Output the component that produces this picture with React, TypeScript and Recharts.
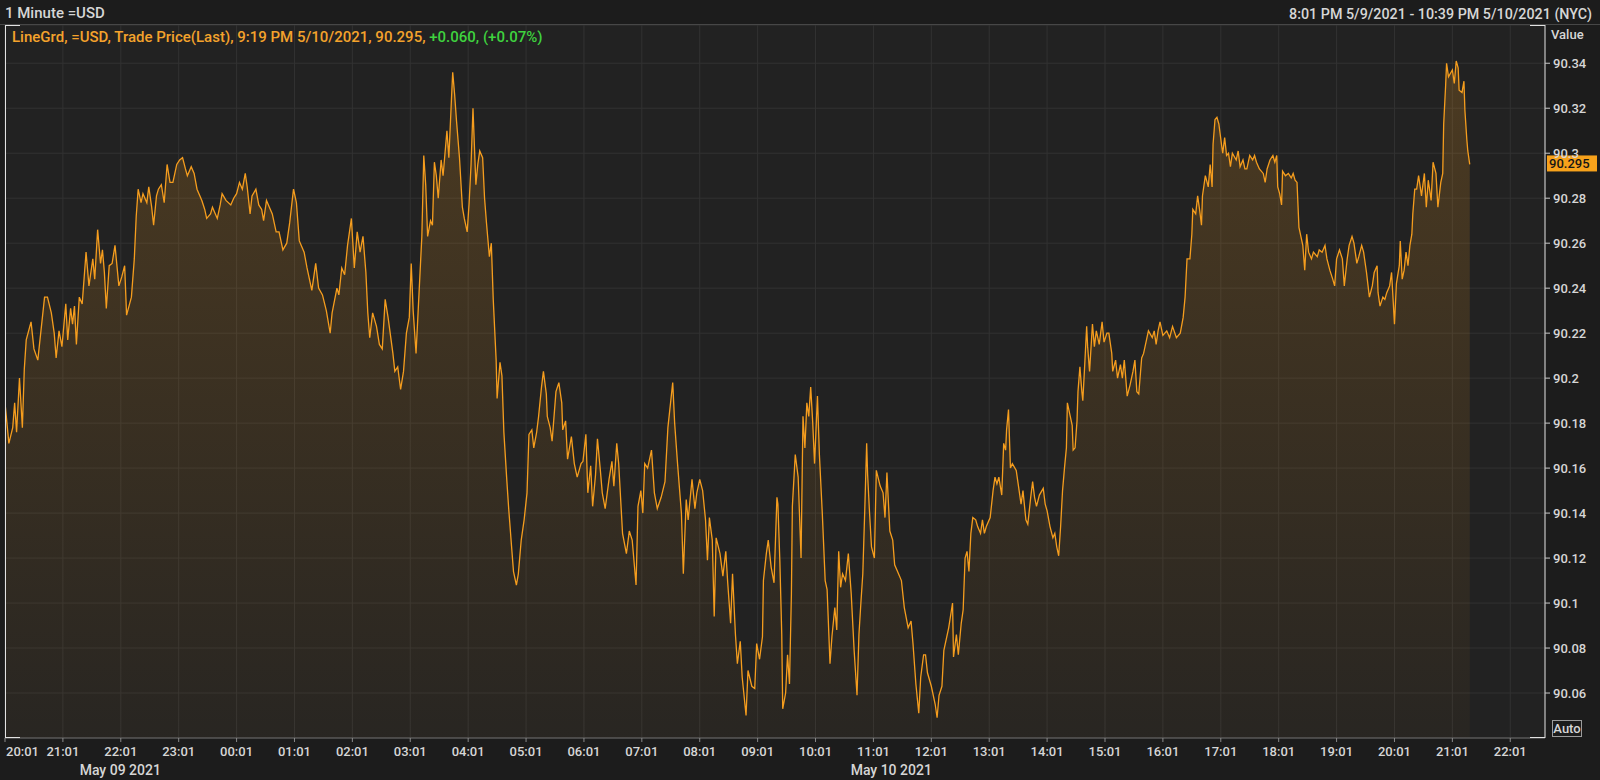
import { AreaChart, Area, XAxis, YAxis, CartesianGrid, ReferenceLine } from 'recharts'

const FONT = "Roboto, 'Noto Sans', sans-serif"

// minutes after 8:01 PM 5/9/2021 (NYC), 1 minute =USD trade price
const START_MINUTE = 20 * 60 + 1
const X_END = 1596 // right edge, ~10:39 PM 5/10

const hourTicks = [0, 60, 120, 180, 240, 300, 360, 420, 480, 540, 600, 660, 720, 780, 840, 900, 960, 1020, 1080, 1140, 1200, 1260, 1320, 1380, 1440, 1500, 1560]
const dateTicks = [119.5, 918.5]
const dateLabels = ['May 09 2021', 'May 10 2021']
const priceTicks = [90.06, 90.08, 90.1, 90.12, 90.14, 90.16, 90.18, 90.2, 90.22, 90.24, 90.26, 90.28, 90.3, 90.32, 90.34]
const lastPrice = 90.295

// [minute, price]
const may9Evening: [number, number][] = [
  [0, 90.189], [4, 90.171], [8, 90.178], [10, 90.189], [12, 90.176], [15, 90.2], [18, 90.178], [20, 90.204], [22, 90.217], [27, 90.225],
  [30, 90.213], [34, 90.208], [37, 90.22], [41, 90.236], [44, 90.236], [48, 90.229], [51, 90.22], [53, 90.209], [56, 90.221], [59, 90.214],
  [63, 90.233], [65, 90.217], [68, 90.231], [70, 90.224], [72, 90.232], [74, 90.215], [77, 90.236], [80, 90.233], [84, 90.256], [87, 90.241],
  [91, 90.253], [93, 90.244], [96, 90.266], [99, 90.251], [101, 90.257], [103, 90.247], [105, 90.231], [108, 90.25], [111, 90.251], [114, 90.259],
  [118, 90.241], [121, 90.245], [124, 90.25], [126, 90.228], [131, 90.236], [134, 90.253], [136, 90.272], [138, 90.284], [141, 90.278], [143, 90.282],
  [147, 90.278], [149, 90.285], [152, 90.276], [154, 90.268], [157, 90.281], [159, 90.284], [162, 90.286], [165, 90.278], [168, 90.295], [171, 90.287],
  [174, 90.287], [178, 90.295], [181, 90.297], [184, 90.298], [187, 90.293], [189, 90.29], [193, 90.294], [196, 90.291], [199, 90.284], [204, 90.279],
  [207, 90.275], [209, 90.271], [213, 90.273], [215, 90.276], [218, 90.273], [220, 90.271], [223, 90.277], [225, 90.282], [229, 90.279], [234, 90.277],
  [237, 90.28],
]

const overnight: [number, number][] = [
  [240, 90.282], [243, 90.287], [246, 90.284], [249, 90.291], [251, 90.285], [254, 90.273], [256, 90.281], [260, 90.284], [263, 90.277], [266, 90.275],
  [268, 90.27], [271, 90.279], [274, 90.276], [277, 90.273], [281, 90.265], [284, 90.265], [288, 90.257], [292, 90.26], [295, 90.269], [299, 90.284],
  [302, 90.278], [305, 90.261], [310, 90.256], [313, 90.249], [318, 90.239], [322, 90.251], [325, 90.24], [329, 90.237], [333, 90.23], [337, 90.22],
  [339, 90.229], [344, 90.24], [346, 90.237], [349, 90.249], [352, 90.246], [355, 90.259], [359, 90.271], [362, 90.249], [365, 90.265], [368, 90.256],
  [371, 90.263], [374, 90.247], [376, 90.229], [378, 90.218], [381, 90.229], [385, 90.223], [388, 90.215], [391, 90.213], [394, 90.235], [397, 90.227],
  [402, 90.211], [404, 90.203], [407, 90.205], [410, 90.195], [413, 90.203], [416, 90.22], [419, 90.227], [421, 90.251], [423, 90.23], [426, 90.211],
  [429, 90.237], [432, 90.263], [434, 90.299], [436, 90.286], [438, 90.263], [441, 90.27], [443, 90.268], [445, 90.296], [447, 90.29], [449, 90.28],
  [452, 90.297], [454, 90.29], [458, 90.31], [460, 90.298], [463, 90.327], [464, 90.336], [466, 90.326], [468, 90.314], [471, 90.298], [474, 90.276],
  [476, 90.271], [479, 90.265], [481, 90.278], [483, 90.295], [485, 90.32], [488, 90.286], [490, 90.295], [492, 90.301], [495, 90.298], [497, 90.28],
  [499, 90.269], [502, 90.254], [504, 90.26], [506, 90.235], [509, 90.208], [510, 90.191], [513, 90.207], [515, 90.201], [517, 90.176], [520, 90.155],
  [522, 90.142], [525, 90.125], [527, 90.114], [530, 90.108], [532, 90.113], [535, 90.128], [538, 90.137], [541, 90.149], [543, 90.175], [546, 90.177],
  [548, 90.169], [551, 90.176], [553, 90.183], [556, 90.196], [558, 90.203], [561, 90.193], [562, 90.183], [565, 90.178], [567, 90.172], [571, 90.194],
  [574, 90.198], [577, 90.189], [578, 90.177], [581, 90.181], [583, 90.164], [587, 90.174], [590, 90.162], [593, 90.156], [597, 90.162],
]

const morning: [number, number][] = [
  [599, 90.163], [602, 90.175], [604, 90.149], [607, 90.161], [609, 90.143], [612, 90.157], [614, 90.173], [617, 90.159], [619, 90.149], [622, 90.142],
  [626, 90.155], [629, 90.163], [631, 90.152], [634, 90.171], [636, 90.162], [640, 90.131], [644, 90.122], [647, 90.132], [650, 90.128], [654, 90.108],
  [656, 90.143], [659, 90.15], [661, 90.14], [663, 90.162], [666, 90.16], [670, 90.168], [673, 90.149], [676, 90.142], [680, 90.147], [684, 90.154],
  [687, 90.178], [690, 90.19], [692, 90.198], [694, 90.18], [697, 90.162], [701, 90.14], [703, 90.113], [706, 90.146], [708, 90.137], [712, 90.155],
  [715, 90.142], [717, 90.149], [720, 90.155], [723, 90.15], [726, 90.137], [728, 90.119], [730, 90.138], [733, 90.128], [735, 90.094], [737, 90.129],
  [741, 90.122], [744, 90.112], [747, 90.123], [749, 90.109], [752, 90.091], [754, 90.113], [757, 90.086], [759, 90.073], [762, 90.083], [764, 90.067],
  [768, 90.05], [770, 90.07], [774, 90.063], [777, 90.062], [779, 90.082], [782, 90.075], [785, 90.085], [786, 90.11], [789, 90.122], [791, 90.128],
  [794, 90.116], [797, 90.109], [800, 90.147], [801, 90.144], [803, 90.119], [805, 90.086], [806, 90.053], [809, 90.06], [811, 90.077], [813, 90.064],
  [815, 90.104], [816, 90.143], [819, 90.166], [822, 90.156], [825, 90.12], [827, 90.183], [829, 90.169], [831, 90.189], [833, 90.183], [835, 90.196],
  [837, 90.181], [839, 90.162], [842, 90.192], [844, 90.166], [847, 90.14], [850, 90.11], [852, 90.106], [855, 90.073], [857, 90.085], [860, 90.098],
  [862, 90.088], [864, 90.123], [866, 90.107], [868, 90.113], [871, 90.11], [874, 90.122], [877, 90.104], [880, 90.079], [883, 90.059], [885, 90.086],
  [887, 90.1], [889, 90.113], [891, 90.141], [893, 90.171], [894, 90.157], [896, 90.14], [898, 90.125], [901, 90.12], [903, 90.159], [907, 90.152],
  [910, 90.149], [912, 90.138], [914, 90.158], [917, 90.132], [920, 90.128], [922, 90.117], [925, 90.114], [929, 90.11], [932, 90.098], [936, 90.089],
  [939, 90.092], [941, 90.082], [944, 90.064], [947, 90.051], [949, 90.067], [952, 90.077], [954, 90.077], [956, 90.069],
]

const afternoon: [number, number][] = [
  [960, 90.063], [964, 90.055], [966, 90.049], [968, 90.059], [971, 90.063], [973, 90.079], [976, 90.085], [978, 90.089], [982, 90.1], [983, 90.076],
  [986, 90.086], [988, 90.077], [991, 90.091], [993, 90.097], [995, 90.12], [997, 90.123], [999, 90.114], [1001, 90.131], [1003, 90.138], [1006, 90.137],
  [1008, 90.134], [1011, 90.131], [1013, 90.137], [1015, 90.131], [1017, 90.134], [1021, 90.138], [1024, 90.15], [1026, 90.156], [1028, 90.153], [1030, 90.156],
  [1033, 90.148], [1035, 90.171], [1037, 90.168], [1038, 90.177], [1040, 90.186], [1042, 90.16], [1044, 90.162], [1048, 90.159], [1050, 90.153], [1053, 90.144],
  [1055, 90.15], [1058, 90.137], [1060, 90.135], [1063, 90.147], [1065, 90.154], [1067, 90.147], [1069, 90.143], [1072, 90.148], [1076, 90.151], [1078, 90.144],
  [1080, 90.141], [1083, 90.134], [1086, 90.129], [1088, 90.131], [1090, 90.125], [1092, 90.121], [1094, 90.134], [1096, 90.15], [1098, 90.16], [1100, 90.169],
  [1101, 90.189], [1104, 90.183], [1106, 90.179], [1107, 90.168], [1109, 90.169], [1111, 90.181], [1112, 90.194], [1114, 90.205], [1116, 90.194], [1117, 90.19],
  [1119, 90.206], [1121, 90.223], [1122, 90.214], [1124, 90.203], [1126, 90.217], [1127, 90.224], [1129, 90.214], [1131, 90.221], [1134, 90.215], [1137, 90.225],
  [1139, 90.216], [1142, 90.22], [1144, 90.22], [1147, 90.211], [1148, 90.203], [1151, 90.208], [1153, 90.2], [1156, 90.206], [1158, 90.2], [1160, 90.208],
  [1163, 90.192], [1166, 90.197], [1169, 90.203], [1171, 90.208], [1173, 90.194], [1175, 90.193], [1178, 90.209], [1180, 90.211], [1183, 90.217], [1185, 90.221],
  [1189, 90.218], [1191, 90.221], [1193, 90.215], [1195, 90.221], [1197, 90.225], [1200, 90.219], [1204, 90.221], [1207, 90.218], [1210, 90.223], [1214, 90.218],
  [1218, 90.22], [1221, 90.227], [1223, 90.236], [1225, 90.253], [1228, 90.253], [1230, 90.264], [1231, 90.275], [1234, 90.273], [1236, 90.281], [1238, 90.275],
  [1240, 90.268], [1241, 90.281], [1244, 90.29], [1247, 90.285], [1249, 90.295], [1251, 90.285], [1252, 90.304], [1254, 90.315], [1256, 90.316], [1258, 90.313],
  [1261, 90.303], [1262, 90.3], [1264, 90.307], [1266, 90.299], [1268, 90.3], [1270, 90.294], [1272, 90.3], [1276, 90.297], [1278, 90.301], [1280, 90.294],
  [1283, 90.297], [1285, 90.293], [1287, 90.293], [1290, 90.299], [1293, 90.297], [1295, 90.299], [1297, 90.296], [1300, 90.293], [1304, 90.291], [1306, 90.287],
  [1308, 90.293], [1311, 90.297], [1314, 90.299], [1316, 90.296], [1318, 90.299],
]

const may10Evening: [number, number][] = [
  [1319, 90.285], [1321, 90.282], [1323, 90.277], [1324, 90.292], [1327, 90.29], [1330, 90.291], [1333, 90.289], [1335, 90.291], [1337, 90.288], [1339, 90.287],
  [1341, 90.267], [1343, 90.263], [1345, 90.259], [1347, 90.248], [1349, 90.264], [1351, 90.256], [1354, 90.253], [1356, 90.256], [1360, 90.254], [1362, 90.257],
  [1365, 90.256], [1368, 90.259], [1370, 90.253], [1373, 90.248], [1376, 90.244], [1378, 90.241], [1380, 90.253], [1383, 90.257], [1386, 90.253], [1388, 90.241],
  [1391, 90.253], [1393, 90.259], [1396, 90.263], [1398, 90.26], [1401, 90.251], [1403, 90.254], [1406, 90.259], [1408, 90.256], [1411, 90.247], [1414, 90.236],
  [1417, 90.241], [1419, 90.247], [1422, 90.25], [1423, 90.238], [1425, 90.232], [1428, 90.236], [1430, 90.235], [1432, 90.238], [1435, 90.241], [1437, 90.247],
  [1440, 90.224], [1442, 90.242], [1445, 90.25], [1446, 90.261], [1448, 90.244], [1450, 90.248], [1452, 90.256], [1454, 90.25], [1456, 90.259], [1458, 90.264],
  [1459, 90.273], [1461, 90.284], [1463, 90.284], [1465, 90.29], [1468, 90.281], [1471, 90.291], [1473, 90.276], [1475, 90.288], [1478, 90.279], [1480, 90.296],
  [1483, 90.291], [1485, 90.276], [1488, 90.287], [1490, 90.291], [1491, 90.313], [1493, 90.33], [1494, 90.34], [1496, 90.334], [1500, 90.337], [1502, 90.331],
  [1504, 90.341], [1506, 90.338], [1507, 90.328], [1510, 90.327], [1512, 90.332], [1513, 90.319], [1515, 90.306], [1516, 90.301], [1518, 90.295],
]

const data = [...may9Evening, ...overnight, ...morning, ...afternoon, ...may10Evening].map(([t, p]) => ({ t, p }))

const LINE = '#f59d1e'
const TEXT = '#d6d6d6'

const formatClock = (t: number) => {
  const total = START_MINUTE + t
  const hh = Math.floor(total / 60) % 24
  const mm = total % 60
  return `${String(hh).padStart(2, '0')}:${String(mm).padStart(2, '0')}`
}

const formatPrice = (v: number) => String(Number(v.toFixed(2)))

const HourTick = (props: any) => {
  const { x, y, payload, index } = props
  const first = index === 0
  return (
    <text x={first ? x + 1 : x} y={y} dy="0.71em" textAnchor={first ? 'start' : 'middle'} fill={TEXT} fontSize={13} fontWeight={500} fontFamily={FONT}>
      {formatClock(payload.value)}
    </text>
  )
}

const DateTick = (props: any) => {
  const { x, y, payload } = props
  const i = dateTicks.indexOf(payload.value)
  return (
    <text x={x} y={y} dy="0.71em" textAnchor="middle" fill={TEXT} fontSize={14} fontWeight={500} fontFamily={FONT}>
      {dateLabels[i]}
    </text>
  )
}

// orange last-price tag sitting on the value axis
const PriceBadge = (props: any) => {
  const { viewBox } = props
  if (!viewBox) return null
  const x = viewBox.x + viewBox.width + 2
  const y = viewBox.y
  return (
    <g>
      <rect x={x} y={y - 9} width={50} height={16} fill="#f7a21b" />
      <text x={x + 2} y={y - 1} dy="0.355em" fill="#161616" fontSize={13} fontWeight={500} fontFamily={FONT}>
        {lastPrice.toFixed(3)}
      </text>
    </g>
  )
}

const abs = (style: React.CSSProperties): React.CSSProperties => ({ position: 'absolute', pointerEvents: 'none', ...style })

export default function App() {
  return (
    <div style={{ position: 'relative', width: 1600, height: 780, background: '#1c1c1c', fontFamily: FONT, overflow: 'hidden' }}>
      <style>{'body{margin:0;background:#1c1c1c}'}</style>
      <AreaChart width={1600} height={780} data={data} margin={{ top: 25, right: 0, bottom: 0, left: 5 }}>
        <defs>
          <linearGradient id="usdFill" x1="0" y1="0" x2="0" y2="1">
            <stop offset="0%" stopColor={LINE} stopOpacity={0.33} />
            <stop offset="100%" stopColor={LINE} stopOpacity={0.05} />
          </linearGradient>
        </defs>
        <CartesianGrid fill="#222222" stroke="#323232" strokeWidth={1} />
        <XAxis
          dataKey="t"
          type="number"
          domain={[0, X_END]}
          ticks={hourTicks}
          interval={0}
          allowDataOverflow
          height={22}
          tickSize={4}
          tickMargin={5}
          axisLine={{ stroke: '#6a6a6a' }}
          tickLine={{ stroke: '#8a8a8a' }}
          tick={(p: any) => <HourTick {...p} />}
        />
        <XAxis
          xAxisId="date"
          dataKey="t"
          type="number"
          domain={[0, X_END]}
          ticks={dateTicks}
          interval={0}
          allowDataOverflow
          height={20}
          axisLine={false}
          tickLine={false}
          tickSize={0}
          tickMargin={5}
          tick={(p: any) => <DateTick {...p} />}
        />
        <YAxis
          orientation="right"
          width={55}
          domain={[90.04, 90.357]}
          ticks={priceTicks}
          interval={0}
          allowDataOverflow
          tickSize={5}
          tickMargin={3}
          axisLine={{ stroke: '#dcdcdc' }}
          tickLine={{ stroke: '#c8c8c8' }}
          tick={{ fill: TEXT, fontSize: 13, fontWeight: 500, fontFamily: FONT }}
          tickFormatter={formatPrice}
        />
        <Area
          type="linear"
          dataKey="p"
          stroke={LINE}
          strokeWidth={1.3}
          fill="url(#usdFill)"
          dot={false}
          activeDot={false}
          isAnimationActive={false}
        />
        <ReferenceLine y={lastPrice} stroke="none" label={<PriceBadge />} />
      </AreaChart>

      {/* header */}
      <div style={abs({ left: 5, top: 5, fontSize: 15, fontWeight: 500, lineHeight: '17px', color: TEXT })}>1 Minute =USD</div>
      <div style={abs({ right: 8, top: 6, fontSize: 14.3, fontWeight: 500, lineHeight: '17px', color: TEXT })}>
        8:01 PM 5/9/2021 - 10:39 PM 5/10/2021 (NYC)
      </div>
      <div style={abs({ left: 0, top: 24, width: 1600, height: 1, background: '#474747' })} />

      {/* legend */}
      <div style={abs({ left: 12, top: 29, fontSize: 15, fontWeight: 500, lineHeight: '17px', color: '#f4a22c', whiteSpace: 'nowrap' })}>
        LineGrd, =USD, Trade Price(Last), 9:19 PM 5/10/2021, 90.295,{' '}
        <span style={{ color: '#3fd23f' }}>+0.060, (+0.07%)</span>
      </div>

      {/* frame corners */}
      <div style={abs({ left: 5, top: 25, width: 1, height: 713, background: '#e2e2e2' })} />
      <div style={abs({ left: 5, top: 25, width: 15, height: 1, background: '#e2e2e2' })} />
      <div style={abs({ left: 5, top: 737, width: 15, height: 1, background: '#e2e2e2' })} />
      <div style={abs({ left: 1530, top: 25, width: 15, height: 1, background: '#e2e2e2' })} />
      <div style={abs({ left: 1530, top: 737, width: 15, height: 1, background: '#e2e2e2' })} />

      {/* value axis title and auto-scale button */}
      <div style={abs({ left: 1551, top: 27, fontSize: 13, fontWeight: 500, lineHeight: '15px', color: TEXT })}>Value</div>
      <div
        style={abs({
          left: 1552,
          top: 720,
          width: 28,
          height: 15,
          border: '1px solid #9c9c9c',
          fontSize: 13,
          fontWeight: 500,
          lineHeight: '15px',
          color: TEXT,
          textAlign: 'center',
        })}
      >
        Auto
      </div>
    </div>
  )
}
